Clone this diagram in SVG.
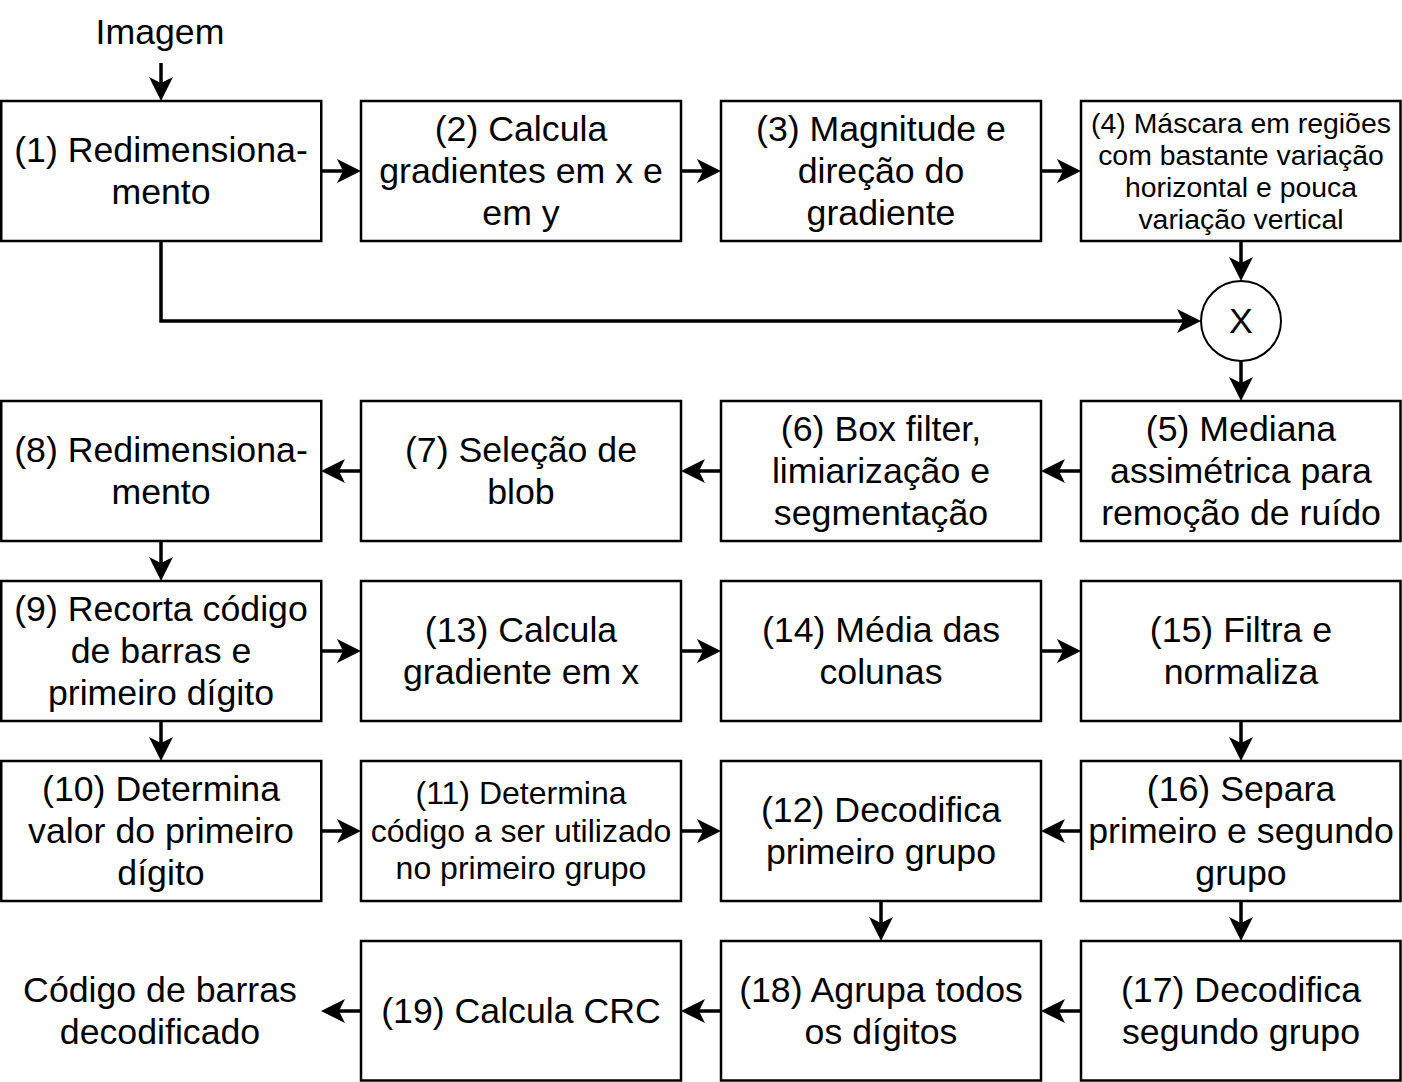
<svg xmlns="http://www.w3.org/2000/svg" width="1402" height="1082" viewBox="0 0 1402 1082">
<style>
.box{fill:#fff;stroke:#000;stroke-width:2.5}
.t{font-family:"Liberation Sans",Arial,Helvetica,sans-serif;font-size:35.7px;fill:#000;text-anchor:middle}
.s{font-size:28.4px}
.m{font-size:32px}
.c{fill:none;stroke:#000;stroke-width:3.5}
</style>
<defs>
<marker id="a" markerUnits="userSpaceOnUse" markerWidth="30" markerHeight="30" refX="7" refY="12" orient="auto" viewBox="0 0 30 30">
<path d="M0,0 L24,12 L0,24 L6,12 Z" fill="#000"/>
</marker>
</defs>
<rect width="1402" height="1082" fill="#fff"/>
<g id="connectors">
<path class="c" d="M161,63 V84" marker-end="url(#a)"/>
<path class="c" d="M321,171 H344" marker-end="url(#a)"/>
<path class="c" d="M681,171 H704" marker-end="url(#a)"/>
<path class="c" d="M1041,171 H1064" marker-end="url(#a)"/>
<path class="c" d="M1241,241 V264" marker-end="url(#a)"/>
<path class="c" d="M161,241 V321 H1184" marker-end="url(#a)"/>
<path class="c" d="M1241,361 V384" marker-end="url(#a)"/>
<path class="c" d="M1081,471 H1058" marker-end="url(#a)"/>
<path class="c" d="M721,471 H698" marker-end="url(#a)"/>
<path class="c" d="M361,471 H338" marker-end="url(#a)"/>
<path class="c" d="M161,541 V564" marker-end="url(#a)"/>
<path class="c" d="M321,651 H344" marker-end="url(#a)"/>
<path class="c" d="M681,651 H704" marker-end="url(#a)"/>
<path class="c" d="M1041,651 H1064" marker-end="url(#a)"/>
<path class="c" d="M161,721 V744" marker-end="url(#a)"/>
<path class="c" d="M1241,721 V744" marker-end="url(#a)"/>
<path class="c" d="M321,831 H344" marker-end="url(#a)"/>
<path class="c" d="M681,831 H704" marker-end="url(#a)"/>
<path class="c" d="M1081,831 H1058" marker-end="url(#a)"/>
<path class="c" d="M881,901 V924" marker-end="url(#a)"/>
<path class="c" d="M1241,901 V924" marker-end="url(#a)"/>
<path class="c" d="M1081,1011 H1058" marker-end="url(#a)"/>
<path class="c" d="M721,1011 H698" marker-end="url(#a)"/>
<path class="c" d="M361,1011 H338" marker-end="url(#a)"/>
</g>
<g id="input"><text class="t" x="160" y="44">Imagem</text></g>
<g id="n1"><rect class="box" x="1.25" y="101" width="320" height="140"/>
<text class="t" x="161" y="162">(1) Redimensiona-<tspan x="161" dy="42">mento</tspan></text></g>
<g id="n2"><rect class="box" x="361" y="101" width="320" height="140"/>
<text class="t" x="521" y="141">(2) Calcula<tspan x="521" dy="42">gradientes em x e</tspan><tspan x="521" dy="42">em y</tspan></text></g>
<g id="n3"><rect class="box" x="721" y="101" width="320" height="140"/>
<text class="t" x="881" y="141">(3) Magnitude e<tspan x="881" dy="42">direção do</tspan><tspan x="881" dy="42">gradiente</tspan></text></g>
<g id="n4"><rect class="box" x="1081" y="101" width="319.5" height="140"/>
<text class="t s" x="1241" y="133">(4) Máscara em regiões<tspan x="1241" dy="32">com bastante variação</tspan><tspan x="1241" dy="32">horizontal e pouca</tspan><tspan x="1241" dy="32">variação vertical</tspan></text></g>
<g id="mult"><circle cx="1241" cy="321" r="40" fill="#fff" stroke="#000" stroke-width="2"/>
<text class="t" x="1241" y="333">X</text></g>
<g id="n5"><rect class="box" x="1081" y="401" width="319.5" height="140"/>
<text class="t" x="1241" y="441">(5) Mediana<tspan x="1241" dy="42">assimétrica para</tspan><tspan x="1241" dy="42">remoção de ruído</tspan></text></g>
<g id="n6"><rect class="box" x="721" y="401" width="320" height="140"/>
<text class="t" x="881" y="441">(6) Box filter,<tspan x="881" dy="42">limiarização e</tspan><tspan x="881" dy="42">segmentação</tspan></text></g>
<g id="n7"><rect class="box" x="361" y="401" width="320" height="140"/>
<text class="t" x="521" y="462">(7) Seleção de<tspan x="521" dy="42">blob</tspan></text></g>
<g id="n8"><rect class="box" x="1.25" y="401" width="320" height="140"/>
<text class="t" x="161" y="462">(8) Redimensiona-<tspan x="161" dy="42">mento</tspan></text></g>
<g id="n9"><rect class="box" x="1.25" y="581" width="320" height="140"/>
<text class="t" x="161" y="621">(9) Recorta código<tspan x="161" dy="42">de barras e</tspan><tspan x="161" dy="42">primeiro dígito</tspan></text></g>
<g id="n13"><rect class="box" x="361" y="581" width="320" height="140"/>
<text class="t" x="521" y="642">(13) Calcula<tspan x="521" dy="42">gradiente em x</tspan></text></g>
<g id="n14"><rect class="box" x="721" y="581" width="320" height="140"/>
<text class="t" x="881" y="642">(14) Média das<tspan x="881" dy="42">colunas</tspan></text></g>
<g id="n15"><rect class="box" x="1081" y="581" width="319.5" height="140"/>
<text class="t" x="1241" y="642">(15) Filtra e<tspan x="1241" dy="42">normaliza</tspan></text></g>
<g id="n10"><rect class="box" x="1.25" y="761" width="320" height="140"/>
<text class="t" x="161" y="801">(10) Determina<tspan x="161" dy="42">valor do primeiro</tspan><tspan x="161" dy="42">dígito</tspan></text></g>
<g id="n11"><rect class="box" x="361" y="761" width="320" height="140"/>
<text class="t m" x="521" y="804">(11) Determina<tspan x="521" dy="37.5">código a ser utilizado</tspan><tspan x="521" dy="37.5">no primeiro grupo</tspan></text></g>
<g id="n12"><rect class="box" x="721" y="761" width="320" height="140"/>
<text class="t" x="881" y="822">(12) Decodifica<tspan x="881" dy="42">primeiro grupo</tspan></text></g>
<g id="n16"><rect class="box" x="1081" y="761" width="319.5" height="140"/>
<text class="t" x="1241" y="801">(16) Separa<tspan x="1241" dy="42">primeiro e segundo</tspan><tspan x="1241" dy="42">grupo</tspan></text></g>
<g id="n17"><rect class="box" x="1081" y="941" width="319.5" height="139.5"/>
<text class="t" x="1241" y="1002">(17) Decodifica<tspan x="1241" dy="42">segundo grupo</tspan></text></g>
<g id="n18"><rect class="box" x="721" y="941" width="320" height="139.5"/>
<text class="t" x="881" y="1002">(18) Agrupa todos<tspan x="881" dy="42">os dígitos</tspan></text></g>
<g id="n19"><rect class="box" x="361" y="941" width="320" height="139.5"/>
<text class="t" x="521" y="1023">(19) Calcula CRC</text></g>
<g id="output"><text class="t" x="160" y="1002">Código de barras<tspan x="160" dy="42">decodificado</tspan></text></g>
</svg>
